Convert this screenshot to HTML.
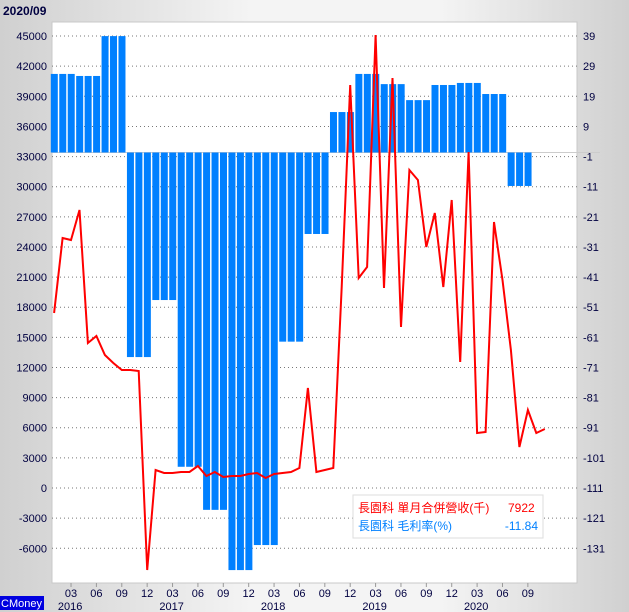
<!DOCTYPE html>
<html><head><meta charset="utf-8"><style>
body{margin:0;width:629px;height:612px;overflow:hidden;background:linear-gradient(90deg,#d0d0d0,#f4f4f4 40%,#f4f4f4 70%,#d0d0d0);font-family:"Liberation Sans","Noto Sans CJK TC",sans-serif;}
svg{position:absolute;left:0;top:0}
</style></head><body>
<svg id="c" width="629" height="612">
<text x="3" y="15" font-size="12" font-weight="bold" fill="#000040">2020/09</text>
<rect x="52" y="22" width="525" height="561" fill="#fff" stroke="#c8c8c8"/>
<g id="grid"></g><g id="bars"></g><g id="line"></g><g id="axes"></g>
<g>
<rect x="353" y="495" width="190" height="43" fill="#fff" stroke="#ddd"/>
<text x="358" y="512" font-size="12" fill="#f00">長園科 單月合併營收(千)</text>
<text x="508" y="512" font-size="12" fill="#f00">7922</text>
<text x="358" y="530" font-size="12" fill="#0080ff">長園科 毛利率(%)</text>
<text x="538" y="530" font-size="12" fill="#0080ff" text-anchor="end">-11.84</text>
</g>
<rect x="0" y="596" width="44" height="14" fill="#0000e0"/>
<text x="1" y="607" font-size="11" fill="#fff">CMoney</text>
</svg>
<script>
const revenue=[17425,24893,24693,27680,14438,15135,13243,12446,11749,11749,11650,-8165,1792,1494,1494,1593,1593,2190,1195,1593,1095,1195,1195,1394,1494,996,1394,1494,1593,1991,9957,1593,1792,1991,20000,40127,20910,22005,45105,19914,40824,16031,31663,30668,23996,27382,20014,28676,12546,33455,5476,5576,26486,20711,13741,4082,7766,5476,5875];
const marginQ=[26,25.3,39,-71.3,-51.7,-109,-123.8,-144.5,-135.9,-66,-29,12.9,26,22.5,17,22.2,22.9,19.1,-12.5];
const leftTicks=[45000,42000,39000,36000,33000,30000,27000,24000,21000,18000,15000,12000,9000,6000,3000,0,-3000,-6000];
const rightTicks=[39,29,19,9,-1,-11,-21,-31,-41,-51,-61,-71,-81,-91,-101,-111,-121,-131];
const monthLabels=["03","06","09","12","03","06","09","12","03","06","09","12","03","06","09","12","03","06","09"];
const yearLabels=["2016","2017","2018","2019","2020"];
const NS="http://www.w3.org/2000/svg";
function yL(v){return 488-v/3000*30.13;}
function yR(v){return 152.5-(v+1)*2.91;}
function xM(m){return 54.1+m*8.46;}
function el(t,a,p){const e=document.createElementNS(NS,t);for(const k in a)e.setAttribute(k,a[k]);p.appendChild(e);return e;}
const grid=document.getElementById('grid'),axes=document.getElementById('axes'),bars=document.getElementById('bars'),line=document.getElementById('line');
leftTicks.forEach((v,i)=>{const y=yL(v);
 const g=el('line',{x1:52,x2:577,y1:y,y2:y,stroke:'#777','stroke-dasharray':'1,3'},grid);
 
 
 const t=el('text',{x:47,y:y+4,'font-size':11,fill:'#000040','text-anchor':'end'},axes);t.textContent=v;
 
 
 const r=el('text',{x:583,y:y+4,'font-size':11,fill:'#000040'},axes);r.textContent=rightTicks[i];
 
 
});
const base=yR(-1);
const bl=el('line',{x1:52,x2:600,y1:base,y2:base,stroke:'#ccc'},grid);


for(let m=0;m<57;m++){const v=marginQ[Math.floor(m/3)];const y=yR(v);
 const b=el('rect',{x:xM(m)-3.3,width:7,y:Math.min(y,base),height:Math.abs(y-base),fill:'#0080ff'},bars);
 
 
}
const pts=revenue.map((v,i)=>xM(i).toFixed(1)+','+yL(v).toFixed(1)).join(' ');
const pl=el('polyline',{points:pts,fill:'none',stroke:'#f00','stroke-width':2},line);


monthLabels.forEach((s,i)=>{const x=xM(2+i*3);
 el('line',{x1:x,x2:x,y1:583,y2:587,stroke:'#999'},axes);
 const t=el('text',{x:x,y:597,'font-size':11,fill:'#000040','text-anchor':'middle'},axes);t.textContent=s;
 
 
});
yearLabels.forEach((s,i)=>{const x=xM(12*i)+16;
 const t=el('text',{x:x,y:610,'font-size':11,fill:'#000040','text-anchor':'middle'},axes);t.textContent=s;
 
 
});
</script>
</body></html>
